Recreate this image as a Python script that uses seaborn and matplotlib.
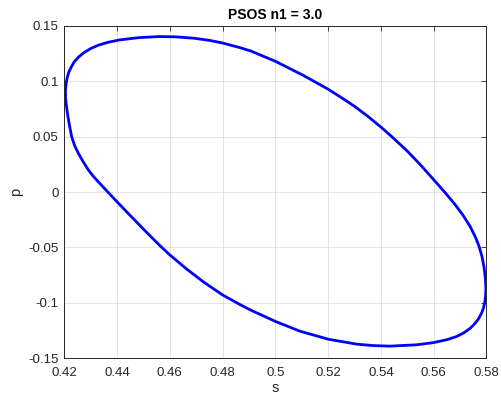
import pandas as pd
import seaborn as sns
import matplotlib
matplotlib.use('Agg')
import matplotlib.pyplot as plt
from matplotlib.ticker import FuncFormatter

# points (clockwise from leftmost point)
s_vals = [0.4204, 0.4205, 0.4207, 0.4211, 0.4217, 0.4226, 0.4238, 0.4254, 0.4275, 0.4300,
          0.4330, 0.4365, 0.4410, 0.4481, 0.4556, 0.4620, 0.4692, 0.4750, 0.4800, 0.4866,
          0.4907, 0.5001, 0.5106, 0.5201, 0.5250, 0.5302, 0.5352, 0.5403, 0.5441, 0.5498,
          0.5548, 0.5595, 0.5645, 0.5680, 0.5710, 0.5738, 0.5758, 0.5772, 0.5783, 0.5791,
          0.5796, 0.5798, 0.5797, 0.5794, 0.5789, 0.5782, 0.5771, 0.5757, 0.5738, 0.5713,
          0.5685, 0.5650, 0.5600, 0.5536, 0.5435, 0.5370, 0.5308, 0.5201, 0.5093, 0.5001,
          0.4904, 0.4866, 0.4799, 0.4727, 0.4664, 0.4598, 0.4560, 0.4499, 0.4437, 0.4400,
          0.4365, 0.4328, 0.4309, 0.4291, 0.4270, 0.4253, 0.4239, 0.4228, 0.4219, 0.4212,
          0.4207, 0.4204]
p_vals = [0.0875, 0.0930, 0.0980, 0.1030, 0.1080, 0.1125, 0.1175, 0.1217, 0.1258, 0.1294,
          0.1325, 0.1350, 0.1372, 0.1392, 0.1402, 0.1400, 0.1387, 0.1368, 0.1344, 0.1302,
          0.1272, 0.1178, 0.1052, 0.0926, 0.0852, 0.0770, 0.0680, 0.0580, 0.0500, 0.0374,
          0.0250, 0.0125, -0.0010, -0.0110, -0.0205, -0.0310, -0.0405, -0.0490, -0.0580, -0.0680,
          -0.0780, -0.0870, -0.0930, -0.0990, -0.1045, -0.1090, -0.1140, -0.1185, -0.1230, -0.1272,
          -0.1305, -0.1332, -0.1358, -0.1378, -0.1390, -0.1385, -0.1372, -0.1328, -0.1255, -0.1168,
          -0.1062, -0.1015, -0.0927, -0.0810, -0.0695, -0.0563, -0.0478, -0.0332, -0.0180, -0.0088,
          0.0000, 0.0095, 0.0145, 0.0200, 0.0280, 0.0351, 0.0420, 0.0500, 0.0610, 0.0710,
          0.0800, 0.0875]

x_ticks = [0.42, 0.44, 0.46, 0.48, 0.50, 0.52, 0.54, 0.56, 0.58]
y_ticks = [-0.15, -0.1, -0.05, 0, 0.05, 0.1, 0.15]

df = pd.DataFrame({'s': s_vals, 'p': p_vals})

sns.set_style('white')
plt.rcParams['font.family'] = ['Liberation Sans', 'DejaVu Sans']

fig = plt.figure(figsize=(5.02, 3.98), dpi=100)
ax = fig.add_axes([0.128, 0.0997, 0.841, 0.8357])

sns.lineplot(data=df, x='s', y='p', sort=False, estimator=None, color='#0000ff',
             linewidth=2.0, ax=ax)

ax.set_xlim(0.42, 0.58)
ax.set_ylim(-0.15, 0.15)
ax.set_xticks(x_ticks)
ax.set_yticks(y_ticks)
fmt = FuncFormatter(lambda v, pos: ('%g' % round(v, 4)))
ax.xaxis.set_major_formatter(fmt)
ax.yaxis.set_major_formatter(fmt)

ax.grid(True, color='#dedede', linewidth=0.6)
ax.set_axisbelow(True)
for sp in ax.spines.values():
    sp.set_color('#262626')
    sp.set_linewidth(0.7)
ax.tick_params(direction='in', length=3.5, width=0.6, color='#262626',
               top=True, right=True, labelsize=9.5, labelcolor='#262626')
ax.tick_params(axis='x', pad=6)
ax.tick_params(axis='y', pad=4)

ax.set_xlabel('s', fontsize=10.5, color='#262626', labelpad=2)
ax.set_ylabel('p', fontsize=10.5, color='#262626', labelpad=4)
ax.set_title('PSOS n1 = 3.0', fontsize=10, fontweight='bold', color='black', pad=5)

fig.savefig('out.png', dpi=100, facecolor='white')
